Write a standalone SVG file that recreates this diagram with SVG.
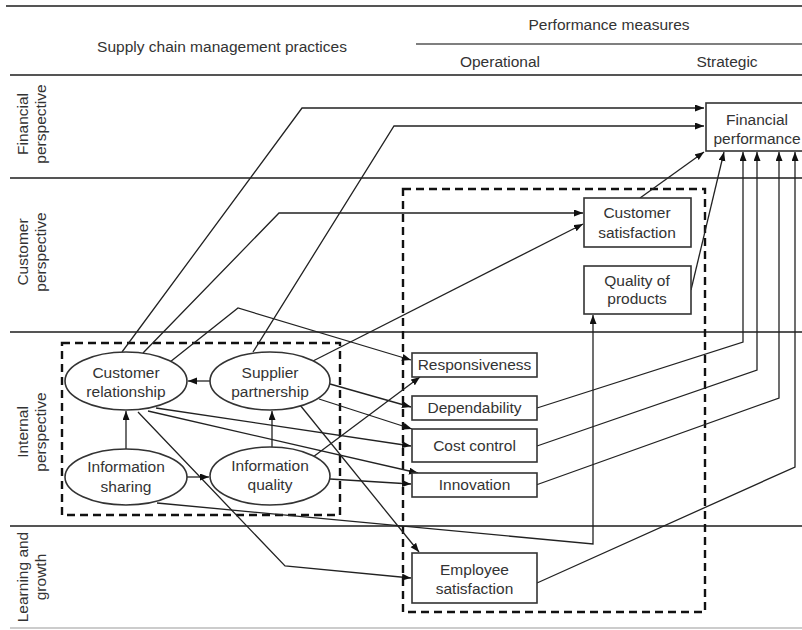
<svg xmlns="http://www.w3.org/2000/svg" width="802" height="630" viewBox="0 0 802 630">
<style>
text{font-family:"Liberation Sans",Arial,sans-serif;font-size:15.5px;fill:#333}
.c{text-anchor:middle}
.lane{stroke:#555;stroke-width:2;fill:none}
.box{fill:#fff;stroke:#333;stroke-width:1.6}
.dash{fill:none;stroke:#111;stroke-width:2.4;stroke-dasharray:8 5}
.conn path{fill:none;stroke:#222;stroke-width:1.3;marker-end:url(#ah)}
</style>
<defs>
<marker id="ah" markerUnits="userSpaceOnUse" markerWidth="10" markerHeight="8" refX="9" refY="3.5" orient="auto">
<path d="M0,0 L9,3.5 L0,7 z" fill="#111"/>
</marker>
</defs>
<rect width="802" height="630" fill="#fff"/>
<g id="lanes">
<line class="lane" x1="6" y1="6" x2="802" y2="6"/>
<line class="lane" x1="416" y1="44" x2="802" y2="44" style="stroke-width:1.6"/>
<line class="lane" x1="10" y1="75" x2="802" y2="75"/>
<line class="lane" x1="10" y1="178" x2="802" y2="178"/>
<line class="lane" x1="10" y1="332" x2="802" y2="332"/>
<line class="lane" x1="10" y1="526" x2="802" y2="526"/>
<line x1="10" y1="628" x2="802" y2="628" stroke="#bbb" stroke-width="1.5"/>
</g>
<g id="headers">
<text class="c" x="609" y="30">Performance measures</text>
<text class="c" x="222" y="52">Supply chain management practices</text>
<text class="c" x="500" y="67">Operational</text>
<text class="c" x="727" y="67">Strategic</text>
</g>
<g id="lane-labels">
<text class="c" transform="translate(28,124) rotate(-90)">Financial</text>
<text class="c" transform="translate(46,124) rotate(-90)">perspective</text>
<text class="c" transform="translate(28,252) rotate(-90)">Customer</text>
<text class="c" transform="translate(46,252) rotate(-90)">perspective</text>
<text class="c" transform="translate(28,432) rotate(-90)">Internal</text>
<text class="c" transform="translate(46,432) rotate(-90)">perspective</text>
<text class="c" transform="translate(28,577) rotate(-90)">Learning and</text>
<text class="c" transform="translate(46,577) rotate(-90)">growth</text>
</g>
<g id="groups">
<rect class="dash" x="62" y="343" width="278" height="172"/>
<rect class="dash" x="403" y="189" width="302" height="423"/>
</g>
<g class="conn" id="connectors">
<path d="M122,352 L302,108 L704,108"/>
<path d="M253,352 L394,126 L704,126"/>
<path d="M143,353 L279,213 L583,213"/>
<path d="M170,362 L238,308 L411,360"/>
<path d="M313,361 L583,224"/>
<path d="M330,384 L411,407"/>
<path d="M319,399 L412,429"/>
<path d="M156,408 L411,446"/>
<path d="M148,411 L418,473"/>
<path d="M313,457 L420,377"/>
<path d="M330,479 L411,484"/>
<path d="M300,405 L419,552"/>
<path d="M138,412 L285,566 L411,578"/>
<path d="M157,503 L593,544 L593,315"/>
<path d="M537,408 L743,342 L743,152"/>
<path d="M537,446 L757,370 L757,152"/>
<path d="M536,485 L779,398 L779,152"/>
<path d="M537,583 L795,467 L795,152"/>
<path d="M640,198 L704,152"/>
<path d="M691,290 L724,152"/>
<path d="M210,381 L188,381"/>
<path d="M126,449 L126,411"/>
<path d="M272,447 L272,411"/>
<path d="M187,477 L209,477"/>
</g>
<g id="financial-performance">
<rect class="box" x="706" y="103" width="110" height="48"/>
<text class="c" x="757" y="125">Financial</text>
<text class="c" x="757" y="144">performance</text>
</g>
<g id="customer-satisfaction">
<rect class="box" x="584" y="198" width="107" height="49"/>
<text class="c" x="637" y="218">Customer</text>
<text class="c" x="637" y="238">satisfaction</text>
</g>
<g id="quality-of-products">
<rect class="box" x="584" y="266" width="107" height="48"/>
<text class="c" x="637" y="286">Quality of</text>
<text class="c" x="637" y="304">products</text>
</g>
<g id="customer-relationship">
<ellipse class="box" cx="126" cy="381" rx="61" ry="29"/>
<text class="c" x="126" y="378">Customer</text>
<text class="c" x="126" y="397">relationship</text>
</g>
<g id="supplier-partnership">
<ellipse class="box" cx="270" cy="381" rx="60" ry="29"/>
<text class="c" x="270" y="378">Supplier</text>
<text class="c" x="270" y="397">partnership</text>
</g>
<g id="information-sharing">
<ellipse class="box" cx="126" cy="477" rx="61" ry="28"/>
<text class="c" x="126" y="472">Information</text>
<text class="c" x="126" y="492">sharing</text>
</g>
<g id="information-quality">
<ellipse class="box" cx="270" cy="476" rx="60" ry="29"/>
<text class="c" x="270" y="471">Information</text>
<text class="c" x="270" y="490">quality</text>
</g>
<g id="responsiveness">
<rect class="box" x="412" y="353" width="125" height="24"/>
<text class="c" x="474.5" y="370">Responsiveness</text>
</g>
<g id="dependability">
<rect class="box" x="412" y="396" width="125" height="24"/>
<text class="c" x="474.5" y="413">Dependability</text>
</g>
<g id="cost-control">
<rect class="box" x="412" y="429" width="125" height="33"/>
<text class="c" x="474.5" y="451">Cost control</text>
</g>
<g id="innovation">
<rect class="box" x="412" y="473" width="125" height="24"/>
<text class="c" x="474.5" y="490">Innovation</text>
</g>
<g id="employee-satisfaction">
<rect class="box" x="412" y="553" width="125" height="50"/>
<text class="c" x="474.5" y="575">Employee</text>
<text class="c" x="474.5" y="594">satisfaction</text>
</g>
</svg>
